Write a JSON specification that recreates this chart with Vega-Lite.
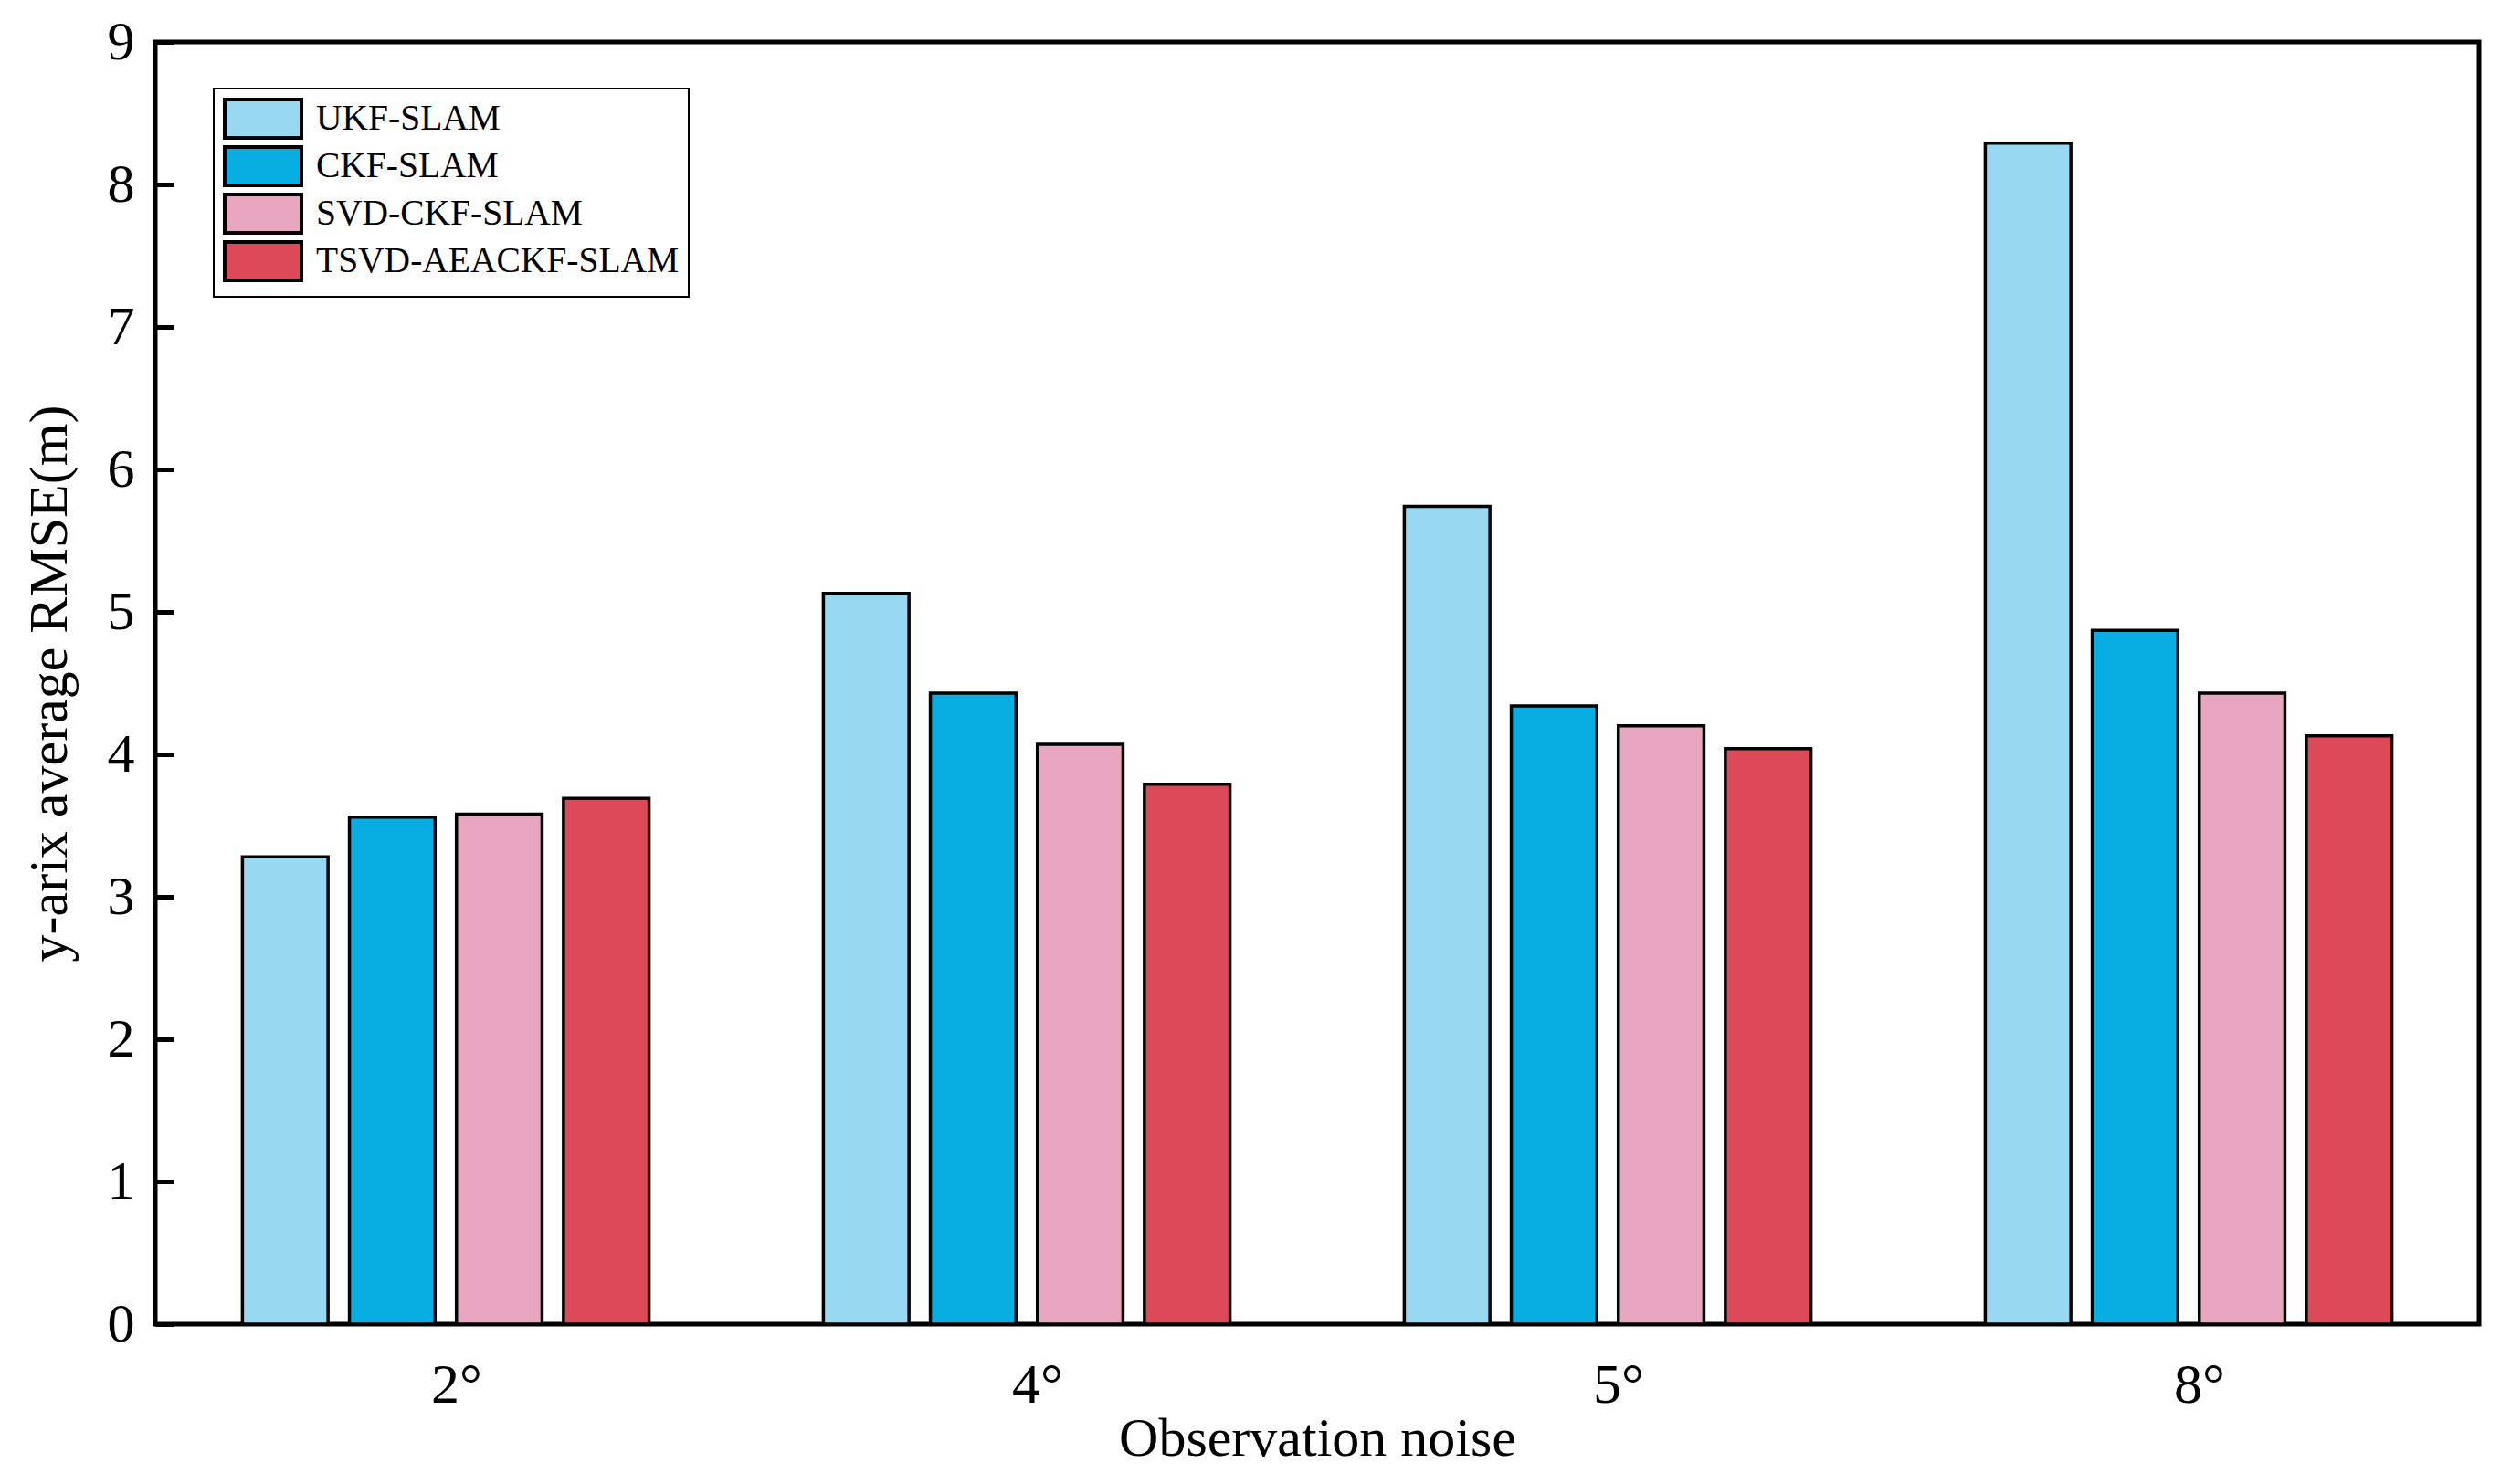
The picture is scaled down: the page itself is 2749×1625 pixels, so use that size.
{
  "$schema": "https://vega.github.io/schema/vega-lite/v6.json",
  "width": 2544,
  "height": 1404,
  "autosize": "none",
  "padding": {"left": 170, "top": 46, "right": 35, "bottom": 175},
  "background": "white",
  "config": {
    "font": "Liberation Serif",
    "view": {"stroke": "black", "strokeWidth": 5}
  },
  "data": {
    "values": [
      {"noise": "2°", "method": "UKF-SLAM", "rmse": 3.28},
      {"noise": "2°", "method": "CKF-SLAM", "rmse": 3.56},
      {"noise": "2°", "method": "SVD-CKF-SLAM", "rmse": 3.58},
      {"noise": "2°", "method": "TSVD-AEACKF-SLAM", "rmse": 3.69},
      {"noise": "4°", "method": "UKF-SLAM", "rmse": 5.13},
      {"noise": "4°", "method": "CKF-SLAM", "rmse": 4.43},
      {"noise": "4°", "method": "SVD-CKF-SLAM", "rmse": 4.07},
      {"noise": "4°", "method": "TSVD-AEACKF-SLAM", "rmse": 3.79},
      {"noise": "5°", "method": "UKF-SLAM", "rmse": 5.74},
      {"noise": "5°", "method": "CKF-SLAM", "rmse": 4.34},
      {"noise": "5°", "method": "SVD-CKF-SLAM", "rmse": 4.2},
      {"noise": "5°", "method": "TSVD-AEACKF-SLAM", "rmse": 4.04},
      {"noise": "8°", "method": "UKF-SLAM", "rmse": 8.29},
      {"noise": "8°", "method": "CKF-SLAM", "rmse": 4.87},
      {"noise": "8°", "method": "SVD-CKF-SLAM", "rmse": 4.43},
      {"noise": "8°", "method": "TSVD-AEACKF-SLAM", "rmse": 4.13}
    ]
  },
  "mark": {"type": "bar", "stroke": "black", "strokeWidth": 3.5, "opacity": 1},
  "encoding": {
    "x": {
      "field": "noise",
      "type": "nominal",
      "sort": ["2°", "4°", "5°", "8°"],
      "scale": {"paddingInner": 0.3, "paddingOuter": 0.15},
      "axis": {
        "title": "Observation noise",
        "labelAngle": 0,
        "ticks": false,
        "domain": false,
        "labelFont": "Liberation Serif",
        "labelFontSize": 62,
        "labelColor": "black",
        "labelPadding": 36,
        "labelOffset": 12,
        "titleFont": "Liberation Serif",
        "titleFontSize": 60,
        "titleFontWeight": "normal",
        "titleColor": "black",
        "titleBaseline": "alphabetic",
        "titleX": 1272,
        "titleY": 143
      }
    },
    "xOffset": {
      "field": "method",
      "type": "nominal",
      "sort": ["UKF-SLAM", "CKF-SLAM", "SVD-CKF-SLAM", "TSVD-AEACKF-SLAM"],
      "scale": {"paddingInner": 0.2, "paddingOuter": 0}
    },
    "y": {
      "field": "rmse",
      "type": "quantitative",
      "scale": {"domain": [0, 9], "nice": false},
      "axis": {
        "title": "y-arix average RMSE(m)",
        "values": [0, 1, 2, 3, 4, 5, 6, 7, 8, 9],
        "grid": false,
        "domain": false,
        "ticks": true,
        "tickSize": -20,
        "tickWidth": 5,
        "tickColor": "black",
        "labelPadding": 43,
        "labelFont": "Liberation Serif",
        "labelFontSize": 60,
        "labelColor": "black",
        "labelFlush": false,
        "labelOverlap": false,
        "titleFont": "Liberation Serif",
        "titleFontSize": 60,
        "titleFontWeight": "normal",
        "titleColor": "black",
        "titleAngle": -90,
        "titleBaseline": "alphabetic",
        "titleX": -98,
        "titleY": 702
      }
    },
    "color": {
      "field": "method",
      "type": "nominal",
      "scale": {
        "domain": ["UKF-SLAM", "CKF-SLAM", "SVD-CKF-SLAM", "TSVD-AEACKF-SLAM"],
        "range": ["#99D8F1", "#08AEE2", "#E9A6C1", "#DC4A5A"]
      },
      "legend": {
        "title": null,
        "orient": "none",
        "legendX": 64,
        "legendY": 51,
        "direction": "vertical",
        "symbolType": "M-2,-1H2V1H-2Z",
        "symbolSize": 1764,
        "symbolStrokeColor": "black",
        "symbolStrokeWidth": 4,
        "symbolOpacity": 1,
        "symbolOffset": 21,
        "labelFont": "Liberation Serif",
        "labelFontSize": 39.5,
        "labelColor": "black",
        "labelOffset": 35,
        "labelLimit": 0,
        "rowPadding": -9,
        "padding": 10,
        "strokeColor": "black",
        "fillColor": "white",
        "encode": {
          "legend": {"update": {"strokeWidth": {"value": 2}}}
        }
      }
    }
  }
}
